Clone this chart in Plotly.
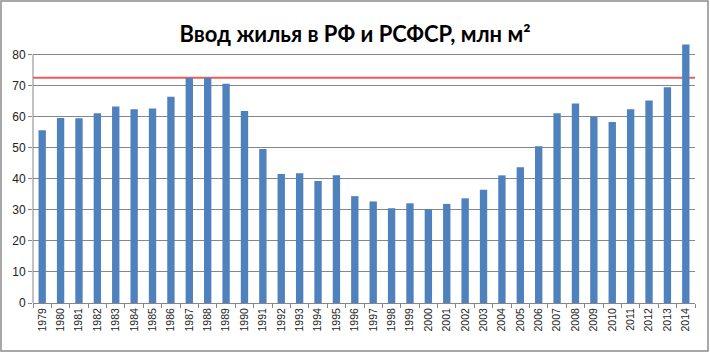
import plotly.graph_objects as go

years = [str(y) for y in range(1979, 2015)]
values = [55.6, 59.6, 59.5, 61.1, 63.3, 62.4, 62.6, 66.4, 72.5, 72.5,
          70.6, 61.8, 49.6, 41.5, 41.8, 39.3, 41.1, 34.4, 32.7, 30.5,
          32.1, 30.2, 31.9, 33.7, 36.5, 41.1, 43.7, 50.5, 61.1, 64.2,
          59.9, 58.3, 62.4, 65.2, 69.5, 83.2]
ref_level = 72.5
y_ticks = [0, 10, 20, 30, 40, 50, 60, 70, 80]
title_text = "Ввод жилья в РФ и РСФСР, млн м²"

W, H = 710, 353
ML, MR, MT, MB = 33, 15, 39, 50
pw = W - ML - MR
ph = H - MT - MB

fig = go.Figure()
fig.add_trace(go.Bar(x=years, y=values, marker=dict(color="#4F81BD", line=dict(width=0)),
                     hoverinfo="x+y"))

grid = "#868686"
fig.update_layout(
    width=W, height=H,
    margin=dict(l=ML, r=MR, t=MT, b=MB, pad=0),
    paper_bgcolor="white", plot_bgcolor="white",
    bargap=0.6, showlegend=False,
    title=dict(text=title_text, x=0.5, xanchor="center", xref="container",
               y=1 - 34 / H, yanchor="middle", yref="container",
               font=dict(family="Lato", size=22, color="#000000", weight="bold")),
    font=dict(family="Liberation Sans", color="#222222"),
)
fig.update_xaxes(type="category", tickangle=-90, tickson="boundaries",
                 ticks="outside", ticklen=4, tickcolor=grid,
                 showline=True, linecolor=grid, linewidth=1,
                 showgrid=False, tickfont=dict(size=10.5, color="#222222"))
fig.update_yaxes(range=[0, 85], tickvals=y_ticks, ticks="outside", ticklen=4,
                 tickcolor=grid, showgrid=True, gridcolor=grid, gridwidth=1,
                 zeroline=False, showline=False,
                 tickfont=dict(size=12, color="#222222"))

# y axis line from 0 to 80
fig.add_shape(type="line", xref="paper", yref="y", x0=0, x1=0, y0=0, y1=y_ticks[-1],
              line=dict(color=grid, width=1))
# red reference line (behind bars)
fig.add_shape(type="line", xref="paper", yref="y", x0=0, x1=1,
              y0=ref_level, y1=ref_level, layer="below",
              line=dict(color="#F25A5A", width=2))
# outer frame
fig.add_shape(type="rect", xref="paper", yref="paper",
              x0=(1 - ML) / pw, x1=1 + (MR - 2) / pw,
              y0=-(MB - 2) / ph, y1=1 + (MT - 1) / ph,
              line=dict(color="#8c8c8c", width=1.5), fillcolor="rgba(0,0,0,0)")

fig.write_html("out.html")
